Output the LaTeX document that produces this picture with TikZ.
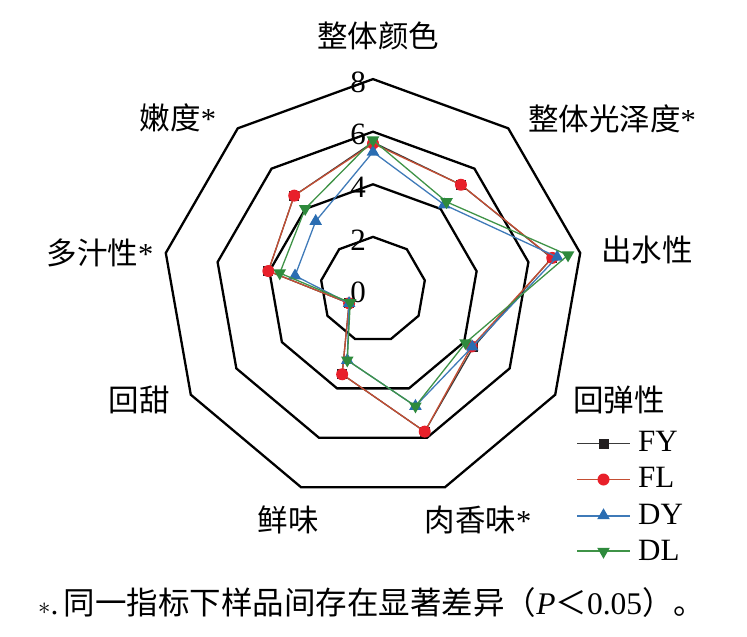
\documentclass[tikz,border=0pt]{standalone}
\usepackage{fontspec}
\setmainfont{Liberation Serif}
\newfontfamily\cjk{Noto Sans CJK SC}
\usetikzlibrary{shapes.geometric}
\definecolor{cFYl}{HTML}{3A3A3A}
\definecolor{cFYm}{HTML}{231F20}
\definecolor{cFLl}{HTML}{C44E33}
\definecolor{cFLm}{HTML}{E8202A}
\definecolor{cDYl}{HTML}{3F7AB8}
\definecolor{cDYm}{HTML}{2A6DB2}
\definecolor{cDLl}{HTML}{3F9347}
\definecolor{cDLm}{HTML}{2E8A3C}
\newcommand\mkseries[2]{\foreach \v [count=\i from 0] in {#2}{\coordinate (#1\i) at ({373+26.3*\v*sin(40*\i)},{289.5-26.3*\v*cos(40*\i)});}}
\tikzset{
  every node/.style={inner sep=0pt},
  gridline/.style={line width=2.3pt, black},
  serline/.style={line width=1.3pt},
  fyl/.style={serline, cFYl}, fll/.style={serline, cFLl},
  dyl/.style={serline, cDYl}, dll/.style={serline, cDLl},
  fym/.style={rectangle, fill=cFYm, minimum size=10pt},
  flm/.style={circle, fill=cFLm, minimum size=12pt},
  dym/.style={regular polygon, regular polygon sides=3, fill=cDYm, minimum size=14.5pt},
  dlm/.style={regular polygon, regular polygon sides=3, shape border rotate=180, fill=cDLm, minimum size=14.5pt},
  lab/.style={font=\fontsize{30.5}{36}\selectfont\cjk},
  num/.style={font=\fontsize{31}{36}\selectfont},
  leg/.style={font=\fontsize{31}{36}\selectfont, anchor=west},
}
\begin{document}
\begin{tikzpicture}[x=1pt,y=-1pt]
\useasboundingbox (0,0) rectangle (747,637);
\coordinate (O) at (373,289.5);
% grid
\foreach \L in {2,4,6,8}{
  \foreach \k in {0,...,8}{\coordinate (G\L-\k) at ({373+26.3*\L*sin(40*\k)},{289.5-26.3*\L*cos(40*\k)});}
  \draw[gridline] (G\L-0) \foreach \k in {1,...,8}{-- (G\L-\k)} -- cycle;
}
% level labels
\node[num] (n8) at (358,82) {8};
\node[num] (n6) at (358,134) {6};
\node[num] (n4) at (358,187) {4};
\node[num] (n2) at (358,240) {2};
\node[num] (n0) at (358,292) {0};
% axis labels
\node[lab] (a0) at (378,36) {整体颜色};
\node[lab] (a1) at (612,119) {整体光泽度{\rmfamily *}};
\node[lab] (a2) at (647,250) {出水性};
\node[lab] (a3) at (619,400) {回弹性};
\node[lab] (a4) at (478,520) {肉香味{\rmfamily *}};
\node[lab] (a5) at (288,520) {鲜味};
\node[lab] (a6) at (139,400) {回甜};
\node[lab] (a7) at (100,253) {多汁性{\rmfamily *}};
\node[lab] (a8) at (178,118) {嫩度{\rmfamily *}};
% data
\mkseries{FY}{5.6,5.2,6.9,4.4,5.75,3.43,1.05,4.04,4.66}
\mkseries{FL}{5.55,5.2,6.92,4.33,5.75,3.43,1.05,4.04,4.66}
\mkseries{DY}{5.23,4.21,7.11,4.36,4.72,2.86,1.05,3.01,3.39}
\mkseries{DL}{5.68,4.35,7.53,4.06,4.72,2.86,1.0,3.6,4.01}
\draw[fyl] (FY0) \foreach \i in {1,...,8}{-- (FY\i)} -- cycle;
\foreach \i in {0,...,8} \node[fym] (mFY\i) at (FY\i) {};
\draw[fll] (FL0) \foreach \i in {1,...,8}{-- (FL\i)} -- cycle;
\foreach \i in {0,...,8} \node[flm] (mFL\i) at (FL\i) {};
\draw[dyl] (DY0) \foreach \i in {1,...,8}{-- (DY\i)} -- cycle;
\foreach \i in {0,...,8} \node[dym] (mDY\i) at (DY\i) {};
\draw[dll] (DL0) \foreach \i in {1,...,8}{-- (DL\i)} -- cycle;
\foreach \i in {0,...,8} \node[dlm] (mDL\i) at (DL\i) {};
% legend
\coordinate (lFYa) at (577,443.5); \coordinate (lFYb) at (630,443.5);
\draw[fyl] (lFYa) -- (lFYb); \node[fym] (lmFY) at (603.5,443.5) {};
\node[leg] (tFY) at (638,441) {FY};
\coordinate (lFLa) at (577,479.5); \coordinate (lFLb) at (630,479.5);
\draw[fll] (lFLa) -- (lFLb); \node[flm] (lmFL) at (603.5,479.5) {};
\node[leg] (tFL) at (638,477) {FL};
\coordinate (lDYa) at (577,516); \coordinate (lDYb) at (630,516);
\draw[dyl] (lDYa) -- (lDYb); \node[dym] (lmDY) at (603.5,515.5) {};
\node[leg] (tDY) at (638,514) {DY};
\coordinate (lDLa) at (577,551); \coordinate (lDLb) at (630,551);
\draw[dll] (lDLa) -- (lDLb); \node[dlm] (lmDL) at (603.5,551.5) {};
\node[leg] (tDL) at (638,550) {DL};
% caption
\node[anchor=west, font=\fontsize{31.5}{36}\selectfont] (cap) at (38,603) {$\ast$.\,{\cjk 同一指标下样品间存在显著差异（}\textit{P}{\cjk ＜}0.05{\cjk ）。}};
\end{tikzpicture}
\end{document}
